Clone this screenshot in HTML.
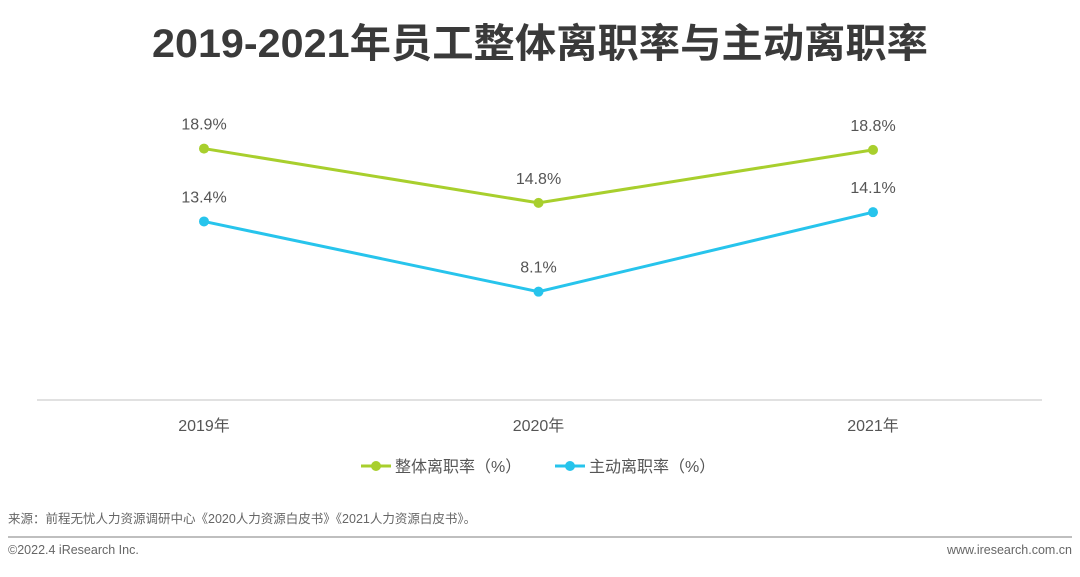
<!DOCTYPE html>
<html><head><meta charset="utf-8"><style>
body{margin:0;background:#fff;width:1080px;height:572px;overflow:hidden;font-family:"Liberation Sans","Noto Sans CJK SC",sans-serif;}
</style></head><body>
<svg width="1080" height="572" xmlns="http://www.w3.org/2000/svg" id="chart" style="font-family:'Liberation Sans','Noto Sans CJK SC',sans-serif">
<text x="540" y="57" text-anchor="middle" font-size="40" font-weight="bold" fill="#3a3a3a" textLength="776" lengthAdjust="spacingAndGlyphs">2019-2021年员工整体离职率与主动离职率</text>
<line x1="37" y1="400" x2="1042" y2="400" stroke="#cfcfcf" stroke-width="1.2"/>
<g id="plot"></g>
<g>
<g>
<line x1="361" y1="466" x2="391" y2="466" stroke="#a8cf2d" stroke-width="3"/><circle cx="376" cy="466" r="5" fill="#a8cf2d"/>
<text x="395" y="472" font-size="16" fill="#555">整体离职率（%）</text></g>
<g>
<line x1="555" y1="466" x2="585" y2="466" stroke="#27c4ec" stroke-width="3"/><circle cx="570" cy="466" r="5" fill="#27c4ec"/>
<text x="589" y="472" font-size="16" fill="#555">主动离职率（%）</text></g>
</g>
<text x="8" y="523" font-size="12.5" fill="#666">来源：前程无忧人力资源调研中心《2020人力资源白皮书》《2021人力资源白皮书》。</text>
<line x1="8" y1="537" x2="1072" y2="537" stroke="#aaa" stroke-width="1.5"/>
<text x="8" y="554" font-size="12.5" fill="#666">©2022.4 iResearch Inc.</text>
<text x="1072" y="554" font-size="12.5" fill="#666" text-anchor="end">www.iresearch.com.cn</text>
</svg>
<script>
const categories=["2019年","2020年","2021年"];
const overallRate=[18.9,14.8,18.8];
const voluntaryRate=[13.4,8.1,14.1];
const seriesNames=["overall","voluntary"];
const NS="http://www.w3.org/2000/svg";
const g=document.getElementById('plot');
function xPos(i){return 204+i*334.5;}
function yPos(v){return 399-v*13.25;}
function mk(t,a){const e=document.createElementNS(NS,t);for(const k in a)e.setAttribute(k,a[k]);g.appendChild(e);return e;}
categories.forEach((c,i)=>{const t=mk('text',{x:xPos(i),y:431,'text-anchor':'middle','font-size':16,fill:'#555'});t.textContent=c;

});
[[overallRate,'#a8cf2d'],[voluntaryRate,'#27c4ec']].forEach(([d,col],s)=>{
const pl=mk('polyline',{points:d.map((v,i)=>xPos(i)+','+yPos(v)).join(' '),fill:'none',stroke:col,'stroke-width':3});


d.forEach((v,i)=>{const c=mk('circle',{cx:xPos(i),cy:yPos(v),r:5,fill:col});


const t=mk('text',{x:xPos(i),y:yPos(v)-19,'text-anchor':'middle','font-size':16,fill:'#555'});t.textContent=v.toFixed(1)+'%';

});
});
</script>
</body></html>
